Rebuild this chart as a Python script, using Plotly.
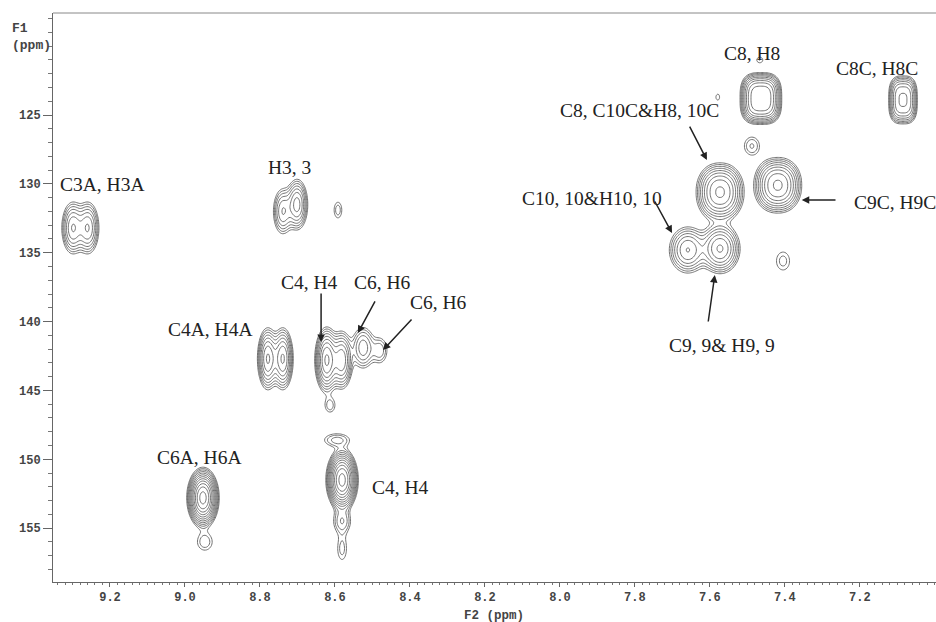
import numpy as np
import plotly.graph_objects as go

# ---- peak table (F2 ppm, F1 ppm, widths, relative intensity, shape exponent)
peak_x   = [9.299, 9.259, 8.739, 8.701, 8.592, 8.779, 8.739, 8.622, 8.582, 8.525, 8.480,
            8.613, 8.595, 8.581, 8.581, 8.581, 8.952, 8.947, 7.464, 7.467, 7.488, 7.579,
            7.085, 7.573, 7.419, 7.659, 7.573, 7.405]
peak_y   = [133.2, 133.2, 132.0, 131.5, 131.9, 142.7, 142.7, 142.8, 142.8, 141.9, 142.1,
            146.1, 148.6, 151.5, 154.5, 156.5, 152.8, 156.0, 123.8, 121.0, 127.25, 123.7,
            123.9, 130.6, 130.1, 134.8, 134.7, 135.6]
peak_sx  = [0.015, 0.015, 0.014, 0.014, 0.010, 0.013, 0.013, 0.014, 0.014, 0.017, 0.014,
            0.012, 0.026, 0.016, 0.016, 0.012, 0.016, 0.018, 0.031, 0.010, 0.017, 0.007,
            0.023, 0.030, 0.030, 0.025, 0.025, 0.018]
peak_sy  = [0.95, 0.95, 0.9, 0.9, 0.55, 1.05, 1.05, 1.05, 1.0, 0.85, 0.65,
            0.45, 0.36, 0.85, 0.6, 0.8, 0.82, 0.55, 1.05, 0.25, 0.55, 0.3,
            1.05, 1.0, 0.95, 0.85, 0.85, 0.67]
peak_amp = [7, 7, 5, 8, 1.7, 10, 10, 14, 9, 4.5, 2.4,
            1.7, 2.2, 40, 2.6, 1.6, 40, 1.8, 18, 1.4, 2.0, 1.3,
            10, 14, 14, 7, 10, 1.6]
peak_p   = [2, 2, 2, 2, 2, 2, 2, 2, 2, 2, 2,
            2, 2, 2, 2, 2, 2, 2, 3, 2, 2, 2,
            3, 2.2, 2.2, 2, 2, 2]

# ---- axis ticks
x_ticks = [9.2, 9.0, 8.8, 8.6, 8.4, 8.2, 8.0, 7.8, 7.6, 7.4, 7.2]
y_ticks = [125, 130, 135, 140, 145, 150, 155]

# ---- labels (text, F2, F1)
labels = [
    ("C3A, H3A", 9.219, 130.08),
    ("H3, 3", 8.720, 128.78),
    ("C4A, H4A", 8.931, 140.54),
    ("C4, H4", 8.669, 137.13),
    ("C6, H6", 8.472, 137.13),
    ("C6, H6", 8.325, 138.58),
    ("C4, H4", 8.424, 152.02),
    ("C6A, H6A", 8.960, 149.84),
    ("C8, H8", 7.488, 120.50),
    ("C8C, H8C", 7.155, 121.59),
    ("C8, C10C&H8, 10C", 7.787, 124.64),
    ("C10, 10&H10, 10", 7.915, 131.03),
    ("C9, 9& H9, 9", 7.568, 141.70),
]
label_left = [("C9C, H9C", 7.221, 131.32)]

# arrows: tail (x, y) -> head (x, y)
arrows = [
    (8.637, 137.85, 8.637, 141.49),
    (8.491, 138.43, 8.539, 140.83),
    (8.392, 139.74, 8.472, 142.07),
    (7.656, 125.73, 7.608, 128.27),
    (7.749, 131.17, 7.701, 133.57),
    (7.261, 131.17, 7.355, 131.17),
    (7.605, 140.10, 7.587, 136.62),
]

# ---- build intensity surface from peak table
gx = np.linspace(6.99, 9.36, 700)
gy = np.linspace(117.5, 159.0, 380)
X, Y = np.meshgrid(gx, gy)
I = np.zeros_like(X)
for px, py, sx, sy, a, p in zip(peak_x, peak_y, peak_sx, peak_sy, peak_amp, peak_p):
    u = np.abs((X - px) / sx) ** p + np.abs((Y - py) / sy) ** p
    I += a * np.exp(-0.5 * u)
Z = np.log(I + 1e-4).astype(np.float32)

fig = go.Figure()
fig.add_trace(go.Contour(
    x=gx, y=gy, z=Z,
    autocontour=False,
    contours=dict(coloring="lines", start=0.0, end=4.0, size=float(np.log(1.38))),
    line=dict(width=0.85, smoothing=1.0),
    colorscale=[[0, "#5a5a5a"], [1, "#5a5a5a"]],
    showscale=False, hoverinfo="skip",
))

ann = []
for t, x, y in labels:
    ann.append(dict(text=t, x=x, y=y, xref="x", yref="y", showarrow=False,
                    font=dict(family="Liberation Serif", size=19.5, color="#222")))
for t, x, y in label_left:
    ann.append(dict(text=t, x=x, y=y, xref="x", yref="y", showarrow=False, xanchor="left",
                    font=dict(family="Liberation Serif", size=19.5, color="#222")))
for tx, ty, hx, hy in arrows:
    ann.append(dict(text="", x=hx, y=hy, ax=tx, ay=ty, xref="x", yref="y",
                    axref="x", ayref="y", showarrow=True, arrowhead=2, arrowsize=1,
                    arrowwidth=1.5, arrowcolor="#222", standoff=0, startstandoff=0))
ann.append(dict(text="F1<br>(ppm)", x=-0.049, y=0.99, xref="paper", yref="paper",
                xanchor="left", yanchor="top", align="left", showarrow=False,
                font=dict(family="Liberation Mono", size=13, color="#444", weight="bold")))
ann.append(dict(text="F2 (ppm)", x=0.4994, y=-0.059, xref="paper", yref="paper",
                xanchor="center", yanchor="middle", showarrow=False,
                font=dict(family="Liberation Mono", size=12.5, color="#444", weight="bold")))

tickfont = dict(family="Liberation Mono", size=12, color="#444", weight="bold")
fig.update_layout(
    width=936, height=622,
    margin=dict(l=53, r=0, t=13, b=40),
    paper_bgcolor="white", plot_bgcolor="white",
    showlegend=False,
    annotations=ann,
    shapes=[dict(type="line", xref="paper", yref="paper", x0=0, x1=1, y0=1, y1=1,
                 line=dict(color="#888", width=1))],
    xaxis=dict(range=[9.352, 6.997], tickmode="array", tickvals=x_ticks,
               ticktext=[f"{v:.1f}" for v in x_ticks], ticks="outside", ticklen=4,
               tickcolor="#666", showline=True, linecolor="#666", linewidth=1,
               showgrid=False, zeroline=False, tickfont=tickfont,
               minor=dict(tickmode="linear", tick0=7.0, dtick=0.02, ticks="outside",
                          ticklen=2, tickcolor="#777", showgrid=False)),
    yaxis=dict(range=[158.91, 117.59], tickmode="array", tickvals=y_ticks,
               ticktext=[str(v) for v in y_ticks], ticks="outside", ticklen=9,
               tickcolor="#666", showline=True, linecolor="#666", linewidth=1,
               showgrid=False, zeroline=False, tickfont=tickfont,
               minor=dict(tickmode="linear", tick0=0, dtick=1, ticks="outside",
                          ticklen=4, tickcolor="#777", showgrid=False)),
)

fig.write_html("out.html", config={"displayModeBar": False},
               post_script="document.body.style.margin='0';document.body.style.padding='0';")
